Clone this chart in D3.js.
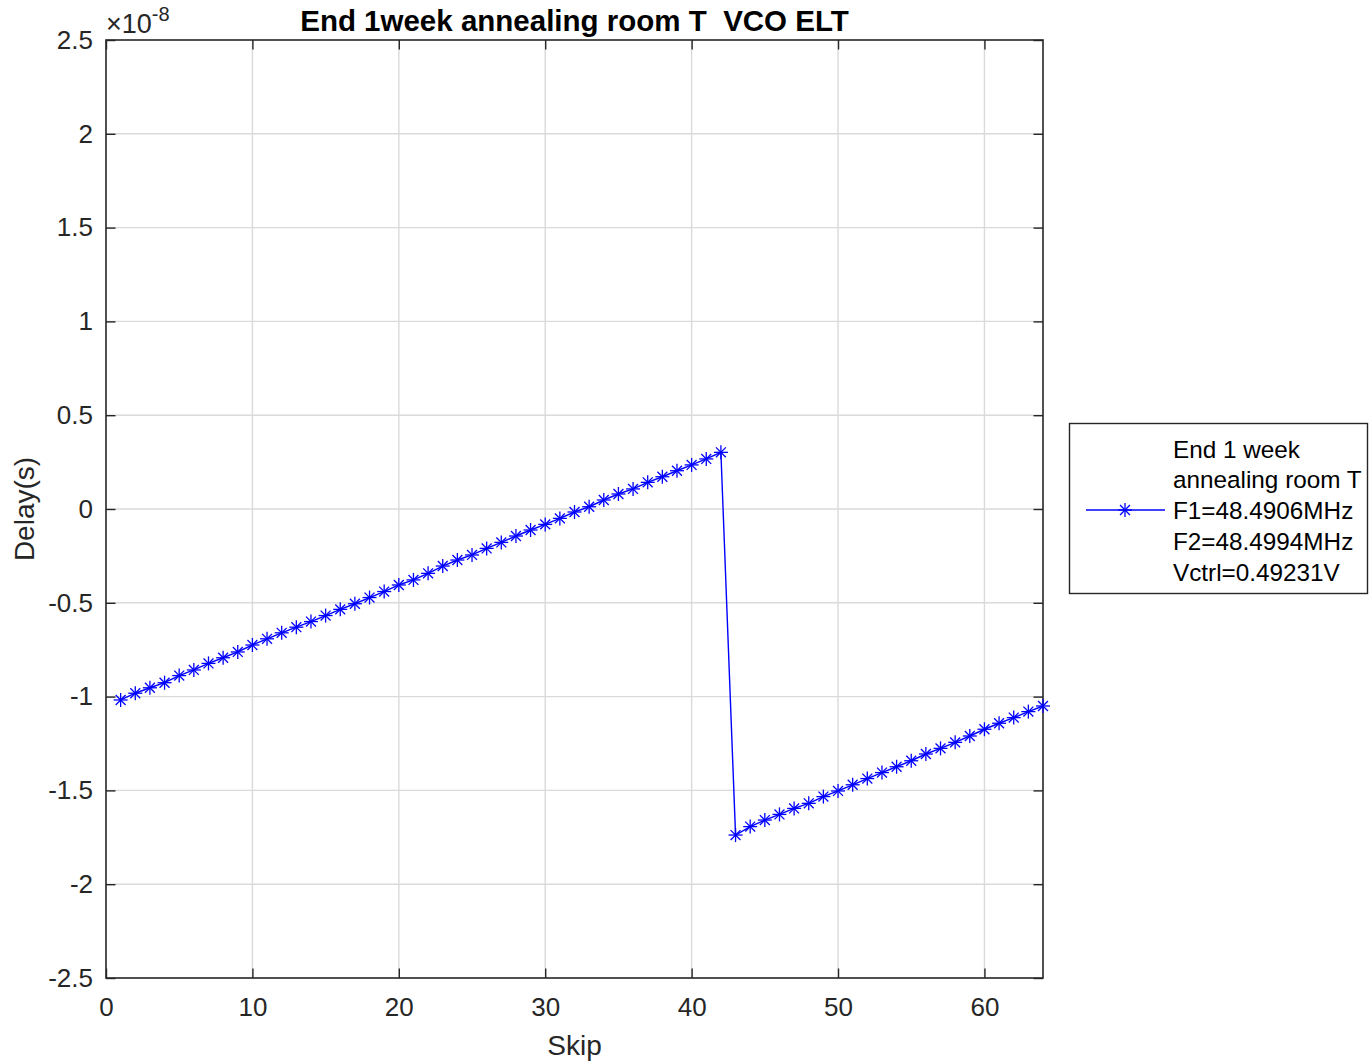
<!DOCTYPE html>
<html>
<head>
<meta charset="utf-8">
<script src="https://cdn.jsdelivr.net/npm/d3@7"></script>
<style>
  html, body { margin: 0; padding: 0; background: #fff; }
  svg { display: block; font-family: "Liberation Sans", Arial, sans-serif; }
  text { white-space: pre; }
</style>
</head>
<body>
<svg id="chart" width="1369" height="1062"></svg>
<script>
// Skip index for each measurement
const skips = d3.range(1, 65);

// Delay values in units of 1e-8 s (first ramp, skips 1..42)
const delayRamp1 = [
  -1.018, -0.982, -0.953, -0.926, -0.888, -0.858, -0.823, -0.793, -0.762, -0.725,
  -0.692, -0.660, -0.630, -0.600, -0.568, -0.535, -0.505, -0.472, -0.440, -0.405,
  -0.378, -0.343, -0.304, -0.272, -0.245, -0.210, -0.178, -0.144, -0.112, -0.082,
  -0.050, -0.016, 0.012, 0.048, 0.080, 0.107, 0.142, 0.172, 0.204, 0.235,
  0.267, 0.302
];
// Delay values in units of 1e-8 s (second ramp, skips 43..64)
const delayRamp2 = [
  -1.738, -1.693, -1.658, -1.628, -1.596, -1.569, -1.533, -1.503, -1.470, -1.437,
  -1.405, -1.374, -1.342, -1.306, -1.276, -1.244, -1.210, -1.174, -1.142, -1.112,
  -1.080, -1.050
];
const delays = delayRamp1.concat(delayRamp2);

const xTicks = [0, 10, 20, 30, 40, 50, 60];
const yTicks = [-2.5, -2, -1.5, -1, -0.5, 0, 0.5, 1, 1.5, 2, 2.5];
const legendLines = ["End 1 week", "annealing room T", "F1=48.4906MHz", "F2=48.4994MHz", "Vctrl=0.49231V"];
const titleText = "End 1week annealing room T  VCO ELT";

const data = skips.map((s, i) => ({ x: s, y: delays[i] }));

const svg = d3.select("#chart");
const margin = { left: 106, top: 40, right: 1043, bottom: 978 };
const x = d3.scaleLinear().domain([0, 64]).range([margin.left, margin.right]);
const y = d3.scaleLinear().domain([-2.5, 2.5]).range([margin.bottom, margin.top]);

const axisColor = "#262626";
const tickFont = 26;
const labelFont = 28;
const tickLen = 9.5;

// grid
const grid = svg.append("g");
grid.selectAll("line.gx").data(xTicks.slice(1)).join("line")
  .attr("x1", d => x(d)).attr("x2", d => x(d))
  .attr("y1", margin.top).attr("y2", margin.bottom)
  .attr("stroke", "#dadada").attr("stroke-width", 1.4);
grid.selectAll("line.gy").data(yTicks.slice(1, -1)).join("line")
  .attr("y1", d => y(d)).attr("y2", d => y(d))
  .attr("x1", margin.left).attr("x2", margin.right)
  .attr("stroke", "#dadada").attr("stroke-width", 1.4);

// axes (bottom / left with labels, top / right mirror ticks)
const xAxis = d3.axisBottom(x).tickValues(xTicks).tickSizeInner(-tickLen).tickSizeOuter(0).tickPadding(20).tickFormat(d3.format("d"));
const yAxis = d3.axisLeft(y).tickValues(yTicks).tickSizeInner(-tickLen).tickSizeOuter(0).tickPadding(13).tickFormat(d => String(d));
const xTop = d3.axisTop(x).tickValues(xTicks).tickSizeInner(-tickLen).tickSizeOuter(0).tickFormat("");
const yRight = d3.axisRight(y).tickValues(yTicks).tickSizeInner(-tickLen).tickSizeOuter(0).tickFormat("");

function styleAxis(g) {
  g.select(".domain").remove();
  g.selectAll(".tick line").attr("stroke", axisColor).attr("stroke-width", 1.4);
  g.selectAll(".tick text").attr("fill", axisColor).attr("font-size", tickFont)
    .attr("font-family", "Liberation Sans, Arial, sans-serif");
}
svg.append("g").attr("transform", `translate(0,${margin.bottom})`).call(xAxis).call(styleAxis);
svg.append("g").attr("transform", `translate(${margin.left},0)`).call(yAxis).call(styleAxis);
svg.append("g").attr("transform", `translate(0,${margin.top})`).call(xTop).call(styleAxis);
svg.append("g").attr("transform", `translate(${margin.right},0)`).call(yRight).call(styleAxis);

// axes box
svg.append("rect")
  .attr("x", margin.left).attr("y", margin.top)
  .attr("width", margin.right - margin.left).attr("height", margin.bottom - margin.top)
  .attr("fill", "none").attr("stroke", axisColor).attr("stroke-width", 1.6);

// series line
const line = d3.line().x(d => x(d.x)).y(d => y(d.y));
svg.append("path").datum(data)
  .attr("d", line).attr("fill", "none").attr("stroke", "#0000ff").attr("stroke-width", 1.4);

// asterisk markers
const r = 7;
const d45 = r * Math.SQRT1_2;
function asterisk(sel) {
  sel.append("line").attr("x1", -r).attr("x2", r).attr("y1", 0).attr("y2", 0);
  sel.append("line").attr("x1", 0).attr("x2", 0).attr("y1", -r).attr("y2", r);
  sel.append("line").attr("x1", -d45).attr("x2", d45).attr("y1", -d45).attr("y2", d45);
  sel.append("line").attr("x1", -d45).attr("x2", d45).attr("y1", d45).attr("y2", -d45);
}
svg.append("g").selectAll("g").data(data).join("g")
  .attr("transform", d => `translate(${x(d.x)},${y(d.y)})`)
  .attr("stroke", "#0000ff").attr("stroke-width", 1.3)
  .each(function () { asterisk(d3.select(this)); });

// exponent label
const expo = svg.append("text").attr("x", 106).attr("y", 33)
  .attr("font-size", 27).attr("fill", axisColor);
expo.append("tspan").text("\u00d710");
expo.append("tspan").attr("dy", -12).attr("font-size", 20).text("-8");

// title
svg.append("text").attr("x", (margin.left + margin.right) / 2).attr("y", 31)
  .attr("text-anchor", "middle").attr("font-weight", "bold")
  .attr("font-size", 29.5).attr("fill", "#000").text(titleText);

// axis labels
svg.append("text").attr("x", (margin.left + margin.right) / 2).attr("y", 1055)
  .attr("text-anchor", "middle").attr("font-size", labelFont).attr("fill", axisColor).text("Skip");
svg.append("text").attr("transform", `translate(34,${y(0)}) rotate(-90)`)
  .attr("text-anchor", "middle").attr("font-size", labelFont).attr("fill", axisColor).text("Delay(s)");

// legend
const lg = svg.append("g");
lg.append("rect").attr("x", 1069.5).attr("y", 423.5).attr("width", 298).attr("height", 170)
  .attr("fill", "#fff").attr("stroke", axisColor).attr("stroke-width", 1.4);
lg.append("line").attr("x1", 1086).attr("x2", 1165).attr("y1", 510).attr("y2", 510)
  .attr("stroke", "#0000ff").attr("stroke-width", 1.4);
lg.append("g").attr("transform", "translate(1125,510)")
  .attr("stroke", "#0000ff").attr("stroke-width", 1.3)
  .call(asterisk);
lg.selectAll("text").data(legendLines).join("text")
  .attr("x", 1173).attr("y", (d, i) => 457.5 + i * 30.8)
  .attr("font-size", 24.3).attr("fill", "#000").text(d => d);
</script>
</body>
</html>
